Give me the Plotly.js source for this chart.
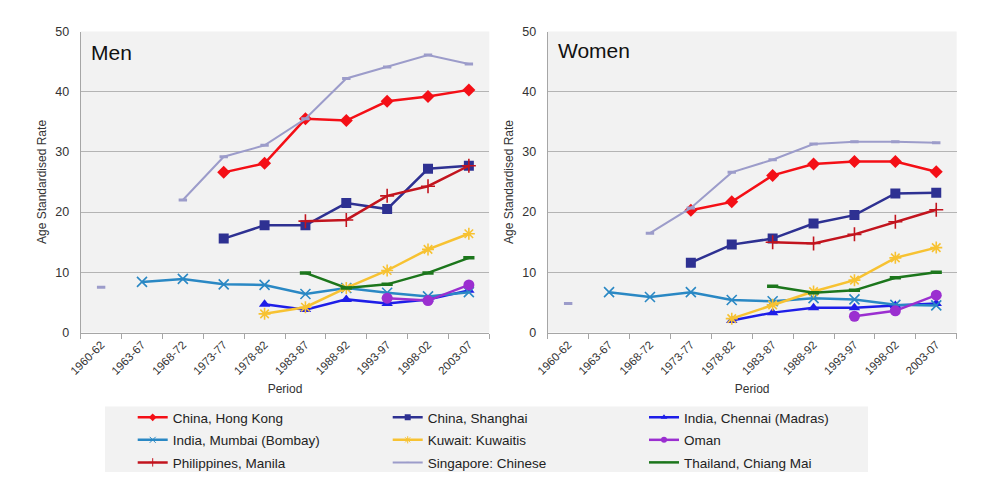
<!DOCTYPE html>
<html lang="en">
<head>
    <meta charset="UTF-8">
    <title>Age Standardised Rate by Period</title>
    <script src="https://cdn.plot.ly/plotly-3.0.1.min.js"></script>
    <style>
        body {
            margin: 0;
            padding: 0;
            background-color: white;
        }
        #plot {
            width: 995px;
            height: 491px;
        }
    </style>
</head>
<body>
    <div id="plot"></div>

    <script>
        const periods = ['1960-62', '1963-67', '1968-72', '1973-77', '1978-82', '1983-87', '1988-92', '1993-97', '1998-02', '2003-07'];

        // Men
        const menHongKong  = [null, null, null, 26.6, 28.1, 35.5, 35.2, 38.4, 39.2, 40.3];
        const menShanghai  = [null, null, null, 15.6, 17.8, 17.8, 21.5, 20.5, 27.2, 27.7];
        const menChennai   = [null, null, null, null, 4.7, 3.8, 5.5, 4.8, 5.5, 7.0];
        const menMumbai    = [null, 8.4, 8.9, 8.0, 7.9, 6.4, 7.4, 6.6, 6.0, 6.7];
        const menKuwait    = [null, null, null, null, 3.1, 4.2, 7.4, 10.3, 13.8, 16.4];
        const menOman      = [null, null, null, null, null, null, null, 5.7, 5.3, 7.9];
        const menManila    = [null, null, null, null, null, 18.5, 18.7, 22.7, 24.3, 27.7];
        const menSingapore = [7.5, null, 22.0, 29.2, 31.1, 35.5, 42.2, 44.1, 46.1, 44.6];
        const menThailand  = [null, null, null, null, null, 9.9, 7.4, 8.0, 9.9, 12.4];

        // Women
        const womenHongKong  = [null, null, null, 20.3, 21.7, 26.1, 28.0, 28.4, 28.4, 26.7];
        const womenShanghai  = [null, null, null, 11.6, 14.6, 15.6, 18.1, 19.5, 23.1, 23.2];
        const womenChennai   = [null, null, null, null, 2.0, 3.3, 4.1, 4.1, 4.5, 4.8];
        const womenMumbai    = [null, 6.7, 5.9, 6.7, 5.4, 5.2, 5.7, 5.5, 4.6, 4.5];
        const womenKuwait    = [null, null, null, null, 2.3, 4.6, 6.8, 8.7, 12.4, 14.1];
        const womenOman      = [null, null, null, null, null, null, null, 2.7, 3.6, 6.2];
        const womenManila    = [null, null, null, null, null, 15.0, 14.8, 16.3, 18.4, 20.4];
        const womenSingapore = [4.8, null, 16.5, 20.7, 26.6, 28.7, 31.3, 31.7, 31.7, 31.5];
        const womenThailand  = [null, null, null, null, null, 7.7, 6.6, 7.0, 9.1, 10.0];

        const W = 995, H = 491;
        const FONT = 'Liberation Sans, Arial, sans-serif';

        // series styles, in legend order
        const series = [
            { name: 'China, Hong Kong',        men: menHongKong,  women: womenHongKong,  color: '#F40F16', symbol: 'diamond',         size: 10, legend: 'legend' },
            { name: 'China, Shanghai',         men: menShanghai,  women: womenShanghai,  color: '#2E3192', symbol: 'square',          size: 10, legend: 'legend2' },
            { name: 'India, Chennai (Madras)', men: menChennai,   women: womenChennai,   color: '#1E1EE8', symbol: 'triangle-up',     size: 10, legend: 'legend3' },
            { name: 'India, Mumbai (Bombay)',  men: menMumbai,    women: womenMumbai,    color: '#2A88C4', symbol: 'x-thin-open',     size: 10, legend: 'legend', thin: 1.6 },
            { name: 'Kuwait: Kuwaitis',        men: menKuwait,    women: womenKuwait,    color: '#F7C232', symbol: 'asterisk-open',   size: 10, legend: 'legend2', thin: 1.6 },
            { name: 'Oman',                    men: menOman,      women: womenOman,      color: '#9B2FD0', symbol: 'circle',          size: 11, legend: 'legend3' },
            { name: 'Philippines, Manila',     men: menManila,    women: womenManila,    color: '#C2141E', symbol: 'cross-thin-open', size: 10, legend: 'legend', thin: 1.6 },
            { name: 'Singapore: Chinese',      men: menSingapore, women: womenSingapore, color: '#9C9CCA', symbol: 'line-ew-open',    size: 6,  legend: 'legend2', thin: 3, width: 2 },
            { name: 'Thailand, Chiang Mai',    men: menThailand,  women: womenThailand,  color: '#1C761C', symbol: 'line-ew-open',    size: 8,  legend: 'legend3', thin: 3.5 }
        ];

        function makeTrace(s, values, xa, ya) {
            return {
                x: periods,
                y: values,
                xaxis: xa,
                yaxis: ya,
                type: 'scatter',
                mode: 'lines+markers',
                name: s.name,
                legendgroup: s.name,
                showlegend: false,
                connectgaps: false,
                line: { color: s.color, width: s.width || 2.5 },
                marker: {
                    symbol: s.symbol,
                    size: s.size,
                    color: s.color,
                    line: { color: s.color, width: s.thin || 0 }
                }
            };
        }

        // legend-only entry with a smaller marker, like the original key
        function legendTrace(s) {
            return {
                x: [periods[0]],
                y: [null],
                type: 'scatter',
                mode: 'lines+markers',
                name: s.name,
                legend: s.legend,
                legendgroup: s.name,
                showlegend: true,
                line: { color: s.color, width: s.width || 2.5 },
                marker: {
                    symbol: s.symbol,
                    size: s.symbol.startsWith('line') ? 0.1 : 6,
                    color: s.color,
                    line: { color: s.color, width: s.thin ? 1 : 0 }
                }
            };
        }

        const traces = [];
        series.forEach(s => traces.push(makeTrace(s, s.men, 'x', 'y')));
        series.forEach(s => traces.push(makeTrace(s, s.women, 'x2', 'y2')));
        series.forEach(s => traces.push(legendTrace(s)));

        const px = v => v / W;
        const py = v => 1 - v / H;

        function xAxis(x0, x1, anchor) {
            return {
                domain: [px(x0), px(x1)],
                anchor: anchor,
                type: 'category',
                categoryarray: periods,
                range: [-0.5, 9.5],
                tickson: 'boundaries',
                ticks: 'outside',
                ticklen: 5,
                tickcolor: '#A6A6A6',
                showline: true,
                linecolor: '#A6A6A6',
                showgrid: false,
                tickangle: -45,
                tickfont: { family: FONT, size: 11.5, color: '#333333' },
                title: { text: 'Period', font: { family: FONT, size: 12, color: '#333333' }, standoff: 8 }
            };
        }

        function yAxis(anchor) {
            return {
                domain: [py(332.5), py(31.5)],
                anchor: anchor,
                range: [0, 50],
                dtick: 10,
                showgrid: true,
                gridcolor: '#B4B4B4',
                zeroline: false,
                showline: true,
                linecolor: '#A6A6A6',
                ticks: '',
                ticklabelstandoff: 8,
                tickfont: { family: FONT, size: 12.5, color: '#333333' },
                title: { text: 'Age Standardised Rate', font: { family: FONT, size: 12, color: '#333333' }, standoff: 6 }
            };
        }

        function legendAt(x, y) {
            return {
                x: px(x),
                y: py(y),
                xanchor: 'left',
                yanchor: 'top',
                bgcolor: 'rgba(0,0,0,0)',
                traceorder: 'grouped',
                tracegroupgap: 2,
                itemwidth: 30,
                font: { family: FONT, size: 13.5, color: '#222222' }
            };
        }

        const layout = {
            width: W,
            height: H,
            margin: { l: 0, r: 0, t: 0, b: 0 },
            paper_bgcolor: 'white',
            plot_bgcolor: '#F2F2F2',
            font: { family: FONT },
            xaxis: xAxis(80.7, 489.3, 'y'),
            yaxis: yAxis('x'),
            xaxis2: xAxis(547.7, 956.7, 'y2'),
            yaxis2: yAxis('x2'),
            legend: legendAt(132.7, 402),
            legend2: legendAt(387.7, 402),
            legend3: legendAt(644, 402),
            shapes: [{
                type: 'rect', xref: 'paper', yref: 'paper', layer: 'below',
                x0: px(105), x1: px(868), y0: py(472), y1: py(406.5),
                fillcolor: '#F2F2F2', line: { width: 0 }
            }],
            annotations: [
                { text: 'Men', xref: 'paper', yref: 'paper', x: px(89), y: py(52), xanchor: 'left', yanchor: 'middle', showarrow: false, font: { family: FONT, size: 21, color: '#111111' } },
                { text: 'Women', xref: 'paper', yref: 'paper', x: px(556), y: py(51), xanchor: 'left', yanchor: 'middle', showarrow: false, font: { family: FONT, size: 21, color: '#111111' } }
            ]
        };

        const config = {
            displayModeBar: false,
            staticPlot: true
        };

        Plotly.newPlot('plot', traces, layout, config);
    </script>
</body>
</html>
